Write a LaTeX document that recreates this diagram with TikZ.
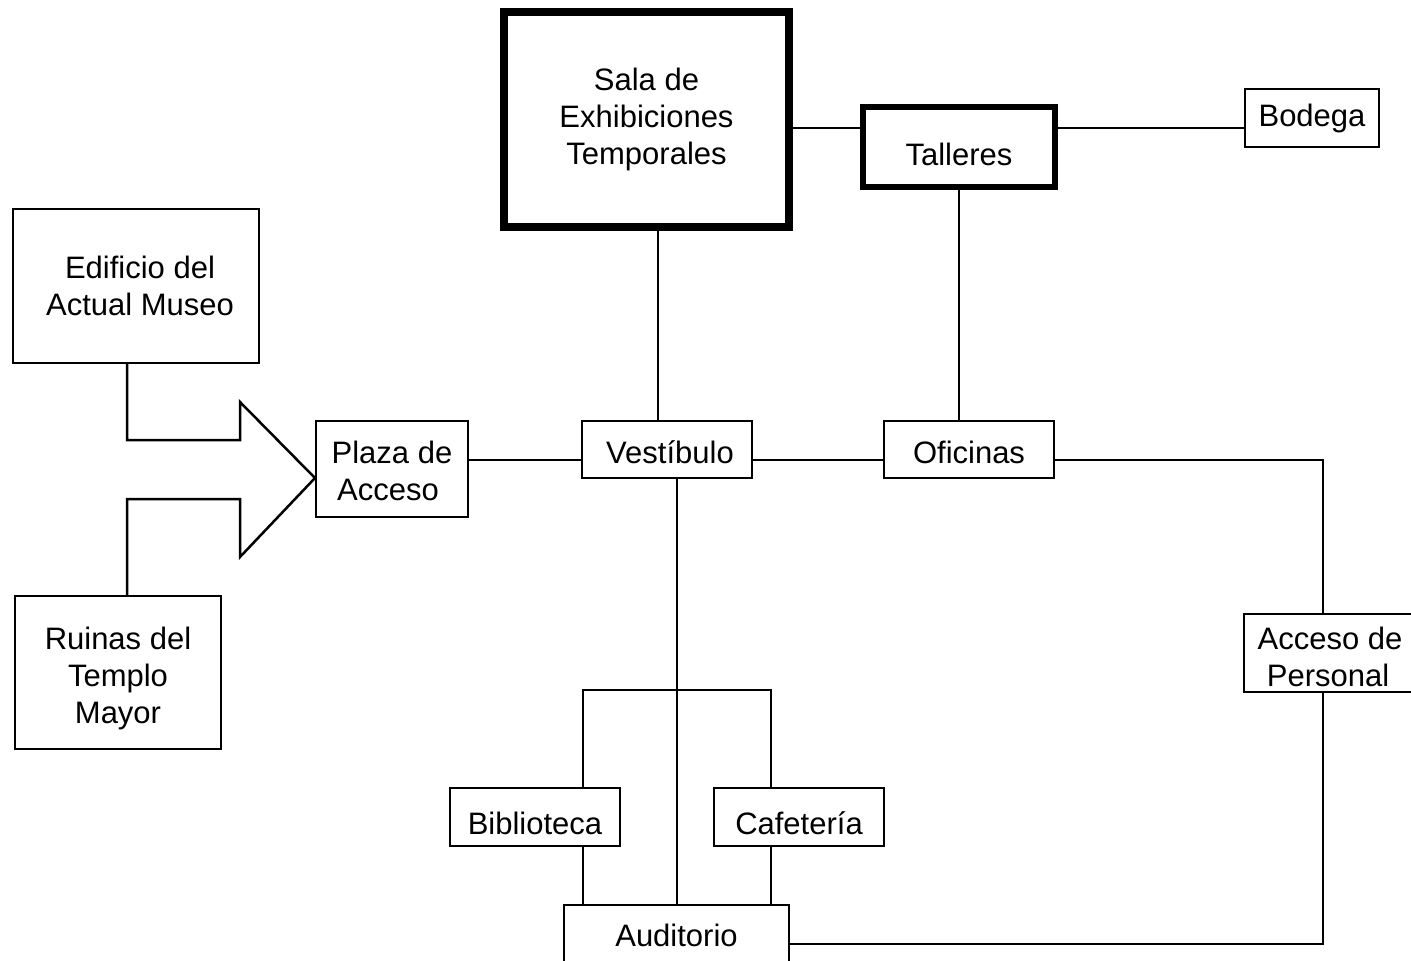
\documentclass[tikz,border=0pt]{standalone}
\usepackage{fontspec}
\setmainfont{Liberation Sans}
\newcommand\lowered[2]{\raisebox{-#1}[\height][\depth]{\begin{tabular}{@{}c@{}}#2\end{tabular}}}
\begin{document}
\begin{tikzpicture}[x=1pt,y=-1pt,
  box/.style={draw,line width=2pt,inner sep=0pt,align=center,
    font=\fontsize{31}{37}\selectfont},
  heavybox/.style={box,line width=8pt},
  midbox/.style={box,line width=6pt},
  link/.style={line width=2pt},
  arrowshape/.style={line width=2.5pt,line join=miter}]
\useasboundingbox (0,0) rectangle (1411,961);
\clip (0,0) rectangle (1411,961);

% nodes
\node[heavybox,minimum width=285pt,minimum height=215pt] (sala) at (646.5,119.5) {Sala de\\Exhibiciones\\Temporales};
\node[midbox,minimum width=192pt,minimum height=80pt] (talleres) at (959,147) {\lowered{11pt}{Talleres}};
\node[box,minimum width=134pt,minimum height=58pt] (bodega) at (1312,118) {Bodega};
\node[box,minimum width=246pt,minimum height=154pt] (edif) at (136,286) {\hspace*{8pt}Edificio del\\\hspace*{8pt}Actual Museo};
\node[box,minimum width=206pt,minimum height=153pt] (ruinas) at (118,672.5) {\lowered{7pt}{Ruinas del\\Templo\\Mayor}};
\node[box,minimum width=152pt,minimum height=96pt] (plaza) at (392,469) {\lowered{6pt}{Plaza de\\Acceso\hspace*{8pt}}};
\node[box,minimum width=170pt,minimum height=57pt] (vest) at (667,449.5) {\lowered{7pt}{\hspace*{6pt}Vestíbulo}};
\node[box,minimum width=170pt,minimum height=57pt] (ofic) at (969,449.5) {\lowered{7pt}{Oficinas}};
\node[box,minimum width=178pt,minimum height=78pt] (acc) at (1333,653) {\lowered{8pt}{Acceso de\hspace*{6pt}\\Personal\hspace*{10pt}}};
\node[box,minimum width=170pt,minimum height=58pt] (bib) at (535,817) {\lowered{10pt}{Biblioteca}};
\node[box,minimum width=170pt,minimum height=58pt] (caf) at (799,817) {\lowered{10pt}{Cafetería}};
\node[box,minimum width=225pt,minimum height=70pt] (aud) at (676.5,940) {\lowered{-1pt}{Auditorio}};

% helper coordinates
\coordinate (r1) at (0,128);
\coordinate (r2) at (0,460);
\coordinate (r3) at (0,944);
\coordinate (r4) at (0,690);
\coordinate (c1) at (658,0);
\coordinate (c3) at (1323,0);
\coordinate (c4) at (677,0);
\coordinate (c5) at (583,0);
\coordinate (c6) at (771,0);
\coordinate (ca) at (127,0);

% connectors
\draw[link] (sala.east |- r1) -- (talleres.west |- r1);
\draw[link] (talleres.east |- r1) -- (bodega.west |- r1);
\draw[link] (sala.south -| c1) -- (vest.north -| c1);
\draw[link] (talleres.south) -- (talleres.south |- ofic.north);
\draw[link] (plaza.east |- r2) -- (vest.west |- r2);
\draw[link] (vest.east |- r2) -- (ofic.west |- r2);
\draw[link] (ofic.east |- r2) -| (acc.north -| c3);
\draw[link] (acc.south -| c3) |- (aud.east |- r3);
\draw[link] (vest.south -| c4) -- (aud.north -| c4);
\draw[link] (bib.north -| c5) |- (c6 |- r4) -- (caf.north -| c6);
\draw[link] (bib.south -| c5) -- (aud.north -| c5);
\draw[link] (caf.south -| c6) -- (aud.north -| c6);

% block arrow from the two sources into the plaza
\draw[arrowshape] (edif.south -| ca) -- (127,440) -- (240,440) -- (240,402)
  -- (plaza.west |- 0,478) -- (240,557) -- (240,499) -- (127,499) -- (ruinas.north -| ca);
\end{tikzpicture}
\end{document}
